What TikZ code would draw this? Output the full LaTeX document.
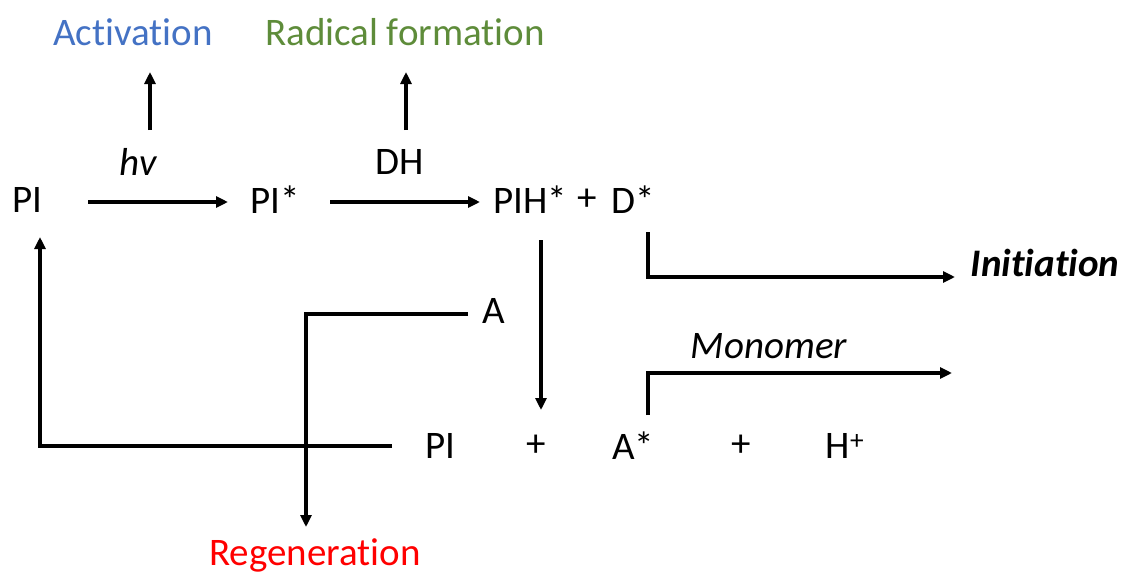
\documentclass[tikz,border=0pt]{standalone}
\usepackage{fontspec}
\setmainfont{Carlito}[Ligatures=NoCommon]
\usetikzlibrary{arrows.meta}
\definecolor{actblue}{HTML}{4472C4}
\definecolor{radgreen}{HTML}{5E8C3A}
\definecolor{regred}{HTML}{FF0000}
\begin{document}
\begin{tikzpicture}[x=1pt,y=-1pt,
  lbl/.style={inner sep=0pt,font=\fontsize{39}{46}\selectfont},
  conn/.style={line width=3.4pt,-{Triangle[length=12pt,width=11pt]}}]
\useasboundingbox (0,0) rectangle (1122,573);
% top labels
\node[lbl,text=actblue] (act) at (133,32) {Activation};
\node[lbl,text=radgreen] (rad) at (405,32) {Radical formation};
\node[lbl] (hv) at (138,162) {\itshape hv};
\node[lbl] (dh) at (400,162) {DH};
% main row
\node[lbl] (pi) at (27,200) {PI};
\node[lbl] (pistar) at (275,200) {PI*};
\node[lbl] (pih) at (530,200) {PIH*};
\node[lbl] (plus1) at (587,200) {+};
\node[lbl] (dstar) at (633,200) {D*};
\node[lbl] (init) at (1045,263) {\bfseries\itshape Initiation};
\node[lbl] (a) at (494,311) {A};
\node[lbl] (mono) at (769,346) {\itshape Monomer};
% bottom row
\node[lbl] (pi2) at (440,446) {PI};
\node[lbl] (plus2) at (536,446) {+};
\node[lbl] (astar) at (633,446) {A*};
\node[lbl] (plus3) at (741,446) {+};
\node[lbl] (hplus) at (845,446) {H\textsuperscript{+}};
\node[lbl,text=regred] (regen) at (315,555) {Regeneration};
% coordinates
\coordinate (u1s) at (150,130); \coordinate (u1e) at (150,72);
\coordinate (u2s) at (406,130); \coordinate (u2e) at (406,72);
\coordinate (r1s) at (88,202); \coordinate (r1e) at (228,202);
\coordinate (r2s) at (330,202); \coordinate (r2e) at (480,202);
\coordinate (ds) at (648,232); \coordinate (dc) at (648,277); \coordinate (de) at (955,277);
\coordinate (ps) at (541,240); \coordinate (pe) at (541,410);
\coordinate (as) at (468,314); \coordinate (ac) at (306,314); \coordinate (ae) at (306,527);
\coordinate (bs) at (392,446); \coordinate (bc) at (40,446); \coordinate (be) at (40,237);
\coordinate (ms) at (648,415); \coordinate (mc) at (648,373); \coordinate (me) at (952,373);
% connectors
\draw[conn] (u1s) -- (u1e);
\draw[conn] (u2s) -- (u2e);
\draw[conn] (r1s) -- (r1e);
\draw[conn] (r2s) -- (r2e);
\draw[conn] (ds) -- (dc) -- (de);
\draw[conn] (ps) -- (pe);
\draw[conn] (as) -- (ac) -- (ae);
\draw[conn] (bs) -- (bc) -- (be);
\draw[conn] (ms) -- (mc) -- (me);
\end{tikzpicture}
\end{document}
